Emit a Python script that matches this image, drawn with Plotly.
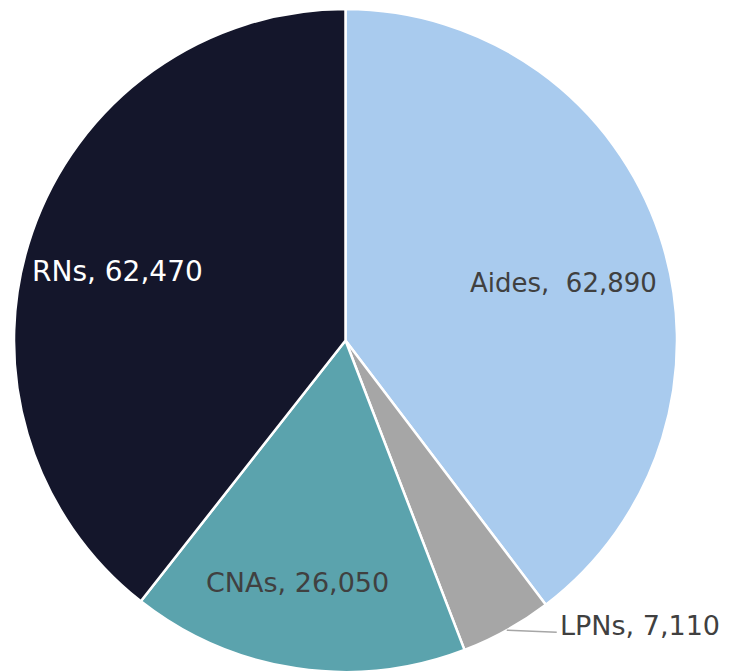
import math
import plotly.graph_objects as go

# ---- data ----
categories = ["Aides", "LPNs", "CNAs", "RNs"]
values = [62890, 7110, 26050, 62470]
colors = ["#A9CBEE", "#A6A6A6", "#5BA3AD", "#14162B"]
label_colors = ["#404040", "#404040", "#404040", "#FFFFFF"]

W, H = 731, 672
OFF = 8  # page body margin in the browser
cx, cy, R = 345.5 - OFF, 340.5 - OFF, 331.5  # pie centre/radius in figure pixels

fig = go.Figure(go.Pie(
    labels=categories,
    values=values,
    sort=False,
    direction="clockwise",
    rotation=0,
    marker=dict(colors=colors, line=dict(color="#FFFFFF", width=2.5)),
    textinfo="none",
    hoverinfo="label+value",
    showlegend=False,
    domain=dict(x=[(cx - R) / W, (cx + R) / W],
                y=[1 - (cy + R) / H, 1 - (cy - R) / H]),
))

# label placement derived from slice mid-angles
total = sum(values)
cum = 0
mids = []
for v in values:
    mids.append((cum + v / 2) / total * 360)
    cum += v

def px_to_paper(x, y):
    return x / W, 1 - y / H

# per-label radial fraction, nudge (pixels), font size
place = {
    "Aides": (0.70, -2, 16, 26),
    "CNAs": (0.70, -13, 13, 27),
    "RNs": (0.70, -9, 7, 28),
}

annotations = []
shapes = []
for cat, v, ang, tc in zip(categories, values, mids, label_colors):
    text = f"{cat},  {v:,}" if cat == "Aides" else f"{cat}, {v:,}"
    a = math.radians(ang)
    if cat in place:
        f, dx, dy, fs = place[cat]
        x = cx + R * f * math.sin(a) + dx
        y = cy - R * f * math.cos(a) + dy
        xp, yp = px_to_paper(x, y)
        annotations.append(dict(x=xp, y=yp, xref="paper", yref="paper", text=text,
                                showarrow=False, xanchor="center", yanchor="middle",
                                font=dict(family="DejaVu Sans", size=fs, color=tc)))
    else:
        # outside label with leader line from rim
        rx = cx + R * math.sin(a)
        ry = cy - R * math.cos(a)
        ex, ey = rx + 50, ry + 2
        x0, y0 = px_to_paper(rx, ry)
        x1, y1 = px_to_paper(ex, ey)
        shapes.append(dict(type="line", xref="paper", yref="paper", x0=x0, y0=y0,
                           x1=x1, y1=y1, line=dict(color="#A6A6A6", width=1.5)))
        tx, ty = px_to_paper(ex + 1, ey - 7)
        annotations.append(dict(x=tx, y=ty, xref="paper", yref="paper", text=text,
                                showarrow=False, xanchor="left", yanchor="middle",
                                font=dict(family="DejaVu Sans", size=27, color=tc)))

fig.update_layout(
    width=W, height=H,
    margin=dict(l=0, r=0, t=0, b=0),
    paper_bgcolor="#FFFFFF",
    plot_bgcolor="#FFFFFF",
    annotations=annotations,
    shapes=shapes,
)

fig.write_html("out.html")
